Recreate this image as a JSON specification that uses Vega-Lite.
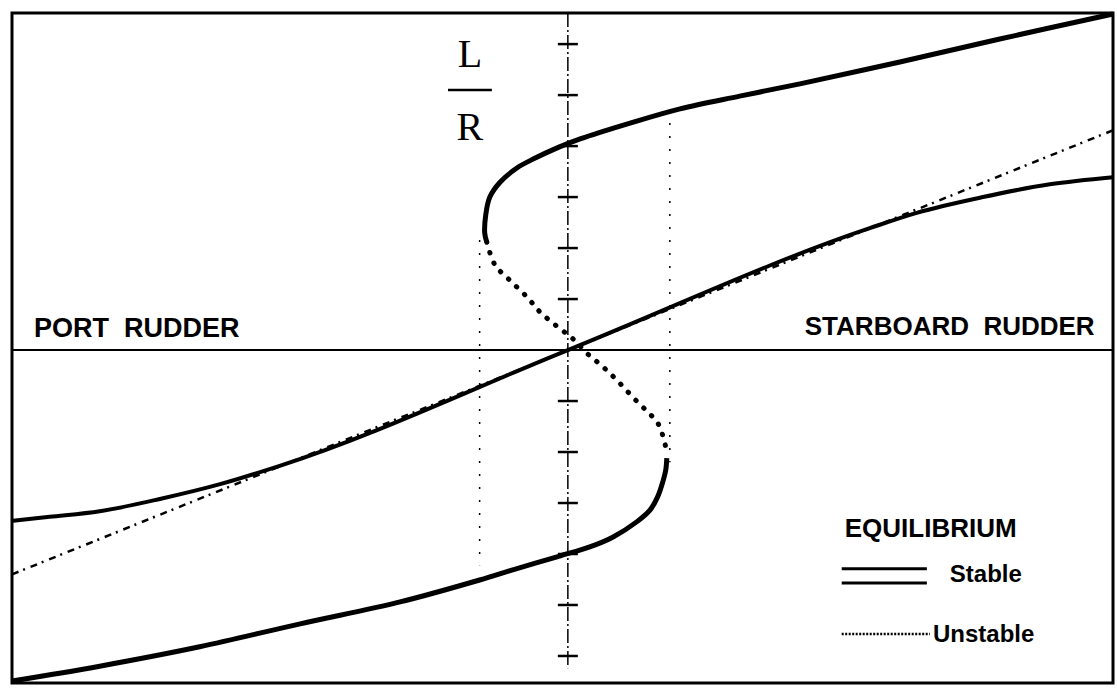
{
  "$schema": "https://vega.github.io/schema/vega-lite/v6.json",
  "width": 1101,
  "height": 670,
  "autosize": "none",
  "padding": {"left": 12, "top": 13, "right": 4, "bottom": 6},
  "background": "white",
  "config": {
    "view": {"stroke": "black", "strokeWidth": 3},
    "axis": {"disable": true}
  },
  "datasets": {
    "stable": [
      {"branch": "upper", "i": 1, "x": 10.69, "y": 6.59},
      {"branch": "upper", "i": 2, "x": 8.47, "y": 6.1},
      {"branch": "upper", "i": 3, "x": 6.51, "y": 5.65},
      {"branch": "upper", "i": 4, "x": 4.55, "y": 5.22},
      {"branch": "upper", "i": 5, "x": 3.37, "y": 4.98},
      {"branch": "upper", "i": 6, "x": 2.2, "y": 4.73},
      {"branch": "upper", "i": 7, "x": 1.22, "y": 4.45},
      {"branch": "upper", "i": 8, "x": 0.24, "y": 4.14},
      {"branch": "upper", "i": 9, "x": -0.22, "y": 3.96},
      {"branch": "upper", "i": 10, "x": -0.65, "y": 3.76},
      {"branch": "upper", "i": 11, "x": -1.0, "y": 3.57},
      {"branch": "upper", "i": 12, "x": -1.33, "y": 3.29},
      {"branch": "upper", "i": 13, "x": -1.53, "y": 3.0},
      {"branch": "upper", "i": 14, "x": -1.61, "y": 2.65},
      {"branch": "upper", "i": 15, "x": -1.63, "y": 2.29},
      {"branch": "upper", "i": 16, "x": -1.59, "y": 2.12},
      {"branch": "lower", "i": 1, "x": 1.94, "y": -2.12},
      {"branch": "lower", "i": 2, "x": 1.92, "y": -2.35},
      {"branch": "lower", "i": 3, "x": 1.86, "y": -2.59},
      {"branch": "lower", "i": 4, "x": 1.76, "y": -2.88},
      {"branch": "lower", "i": 5, "x": 1.61, "y": -3.14},
      {"branch": "lower", "i": 6, "x": 1.35, "y": -3.37},
      {"branch": "lower", "i": 7, "x": 0.88, "y": -3.67},
      {"branch": "lower", "i": 8, "x": 0.43, "y": -3.86},
      {"branch": "lower", "i": 9, "x": -0.16, "y": -4.04},
      {"branch": "lower", "i": 10, "x": -1.08, "y": -4.31},
      {"branch": "lower", "i": 11, "x": -1.73, "y": -4.51},
      {"branch": "lower", "i": 12, "x": -3.29, "y": -4.94},
      {"branch": "lower", "i": 13, "x": -5.25, "y": -5.37},
      {"branch": "lower", "i": 14, "x": -7.22, "y": -5.82},
      {"branch": "lower", "i": 15, "x": -9.18, "y": -6.2},
      {"branch": "lower", "i": 16, "x": -10.9, "y": -6.49}
    ],
    "unstable": [
      {"i": 1, "x": -1.59, "y": 2.12},
      {"i": 2, "x": -1.43, "y": 1.67},
      {"i": 3, "x": -1.14, "y": 1.37},
      {"i": 4, "x": -0.8, "y": 1.04},
      {"i": 5, "x": -0.55, "y": 0.75},
      {"i": 6, "x": -0.22, "y": 0.47},
      {"i": 7, "x": 0.1, "y": 0.22},
      {"i": 8, "x": 0.37, "y": -0.06},
      {"i": 9, "x": 0.69, "y": -0.33},
      {"i": 10, "x": 0.98, "y": -0.61},
      {"i": 11, "x": 1.27, "y": -0.92},
      {"i": 12, "x": 1.55, "y": -1.2},
      {"i": 13, "x": 1.75, "y": -1.41},
      {"i": 14, "x": 1.86, "y": -1.67},
      {"i": 15, "x": 1.94, "y": -2.0}
    ],
    "straight": [
      {"x": -10.9, "y": -3.35},
      {"x": -10.16, "y": -3.27},
      {"x": -9.18, "y": -3.16},
      {"x": -8.0, "y": -2.92},
      {"x": -6.82, "y": -2.63},
      {"x": -5.65, "y": -2.27},
      {"x": 0, "y": 0},
      {"x": 5.92, "y": 2.39},
      {"x": 6.84, "y": 2.69},
      {"x": 8.14, "y": 3.0},
      {"x": 9.45, "y": 3.25},
      {"x": 10.69, "y": 3.39}
    ],
    "asymptote": [
      {"x": -10.9, "y": -4.4},
      {"x": 10.69, "y": 4.31}
    ],
    "refs": [
      {"x": -1.73, "y": 2.16, "y2": -4.22},
      {"x": 2.0, "y": 4.71, "y2": -2.2}
    ],
    "ticks": [
      {"x": 0, "y": 6}, {"x": 0, "y": 5}, {"x": 0, "y": 4}, {"x": 0, "y": 3},
      {"x": 0, "y": 2}, {"x": 0, "y": 1}, {"x": 0, "y": -1}, {"x": 0, "y": -2},
      {"x": 0, "y": -3}, {"x": 0, "y": -4}, {"x": 0, "y": -5}, {"x": 0, "y": -6}
    ]
  },
  "encoding": {
    "x": {"type": "quantitative", "scale": {"domain": [-10.9, 10.69], "nice": false, "zero": false}, "axis": null},
    "y": {"type": "quantitative", "scale": {"domain": [-6.53, 6.61], "nice": false, "zero": false}, "axis": null}
  },
  "layer": [
    {
      "data": {"values": [{"y": 0}]},
      "mark": {"type": "rule", "stroke": "black", "strokeWidth": 2},
      "encoding": {"y": {"field": "y", "type": "quantitative"}, "x": null}
    },
    {
      "data": {"values": [{"x": 0, "y": 6.61, "y2": -6.24}]},
      "mark": {"type": "rule", "stroke": "black", "strokeWidth": 1.5, "strokeDash": [14, 3, 2, 3]},
      "encoding": {
        "x": {"field": "x", "type": "quantitative"},
        "y": {"field": "y", "type": "quantitative"},
        "y2": {"field": "y2"}
      }
    },
    {
      "data": {"name": "ticks"},
      "mark": {"type": "tick", "orient": "horizontal", "size": 20, "thickness": 2.5, "color": "black", "opacity": 1},
      "encoding": {
        "x": {"field": "x", "type": "quantitative"},
        "y": {"field": "y", "type": "quantitative"}
      }
    },
    {
      "data": {"name": "refs"},
      "mark": {"type": "rule", "stroke": "black", "strokeWidth": 1.5, "strokeDash": [2, 11]},
      "encoding": {
        "x": {"field": "x", "type": "quantitative"},
        "y": {"field": "y", "type": "quantitative"},
        "y2": {"field": "y2"}
      }
    },
    {
      "data": {"name": "asymptote"},
      "mark": {"type": "line", "stroke": "black", "strokeWidth": 2.5, "strokeDash": [7, 5, 2, 6]},
      "encoding": {
        "x": {"field": "x", "type": "quantitative"},
        "y": {"field": "y", "type": "quantitative"}
      }
    },
    {
      "data": {"name": "straight"},
      "mark": {"type": "line", "stroke": "black", "strokeWidth": 4, "interpolate": "monotone"},
      "encoding": {
        "x": {"field": "x", "type": "quantitative"},
        "y": {"field": "y", "type": "quantitative"}
      }
    },
    {
      "data": {"name": "stable"},
      "mark": {"type": "line", "stroke": "black", "strokeWidth": 5, "interpolate": "catmull-rom"},
      "encoding": {
        "x": {"field": "x", "type": "quantitative"},
        "y": {"field": "y", "type": "quantitative"},
        "detail": {"field": "branch"},
        "order": {"field": "i", "type": "quantitative"}
      }
    },
    {
      "data": {"name": "unstable"},
      "mark": {"type": "line", "stroke": "black", "strokeWidth": 5, "strokeDash": [0.5, 10.5], "strokeCap": "round", "interpolate": "catmull-rom"},
      "encoding": {
        "x": {"field": "x", "type": "quantitative"},
        "y": {"field": "y", "type": "quantitative"},
        "order": {"field": "i", "type": "quantitative"}
      }
    },
    {
      "data": {"values": [
        {"x": -10.47, "y": 0.25, "t": "PORT\u00a0\u00a0RUDDER"}
      ]},
      "mark": {"type": "text", "align": "left", "baseline": "alphabetic", "font": "Liberation Sans", "fontWeight": "bold", "fontSize": 27, "color": "black"},
      "encoding": {
        "x": {"field": "x", "type": "quantitative"},
        "y": {"field": "y", "type": "quantitative"},
        "text": {"field": "t"}
      }
    },
    {
      "data": {"values": [
        {"x": 10.33, "y": 0.29, "t": "STARBOARD\u00a0\u00a0RUDDER"}
      ]},
      "mark": {"type": "text", "align": "right", "baseline": "alphabetic", "font": "Liberation Sans", "fontWeight": "bold", "fontSize": 26, "color": "black"},
      "encoding": {
        "x": {"field": "x", "type": "quantitative"},
        "y": {"field": "y", "type": "quantitative"},
        "text": {"field": "t"}
      }
    },
    {
      "data": {"values": [
        {"x": 5.43, "y": -3.67, "t": "EQUILIBRIUM"}
      ]},
      "mark": {"type": "text", "align": "left", "baseline": "alphabetic", "font": "Liberation Sans", "fontWeight": "bold", "fontSize": 26, "color": "black"},
      "encoding": {
        "x": {"field": "x", "type": "quantitative"},
        "y": {"field": "y", "type": "quantitative"},
        "text": {"field": "t"}
      }
    },
    {
      "data": {"values": [
        {"x": 7.49, "y": -4.41, "t": "Stable"},
        {"x": 7.16, "y": -5.59, "t": "Unstable"}
      ]},
      "mark": {"type": "text", "align": "left", "baseline": "middle", "font": "Liberation Sans", "fontWeight": "bold", "fontSize": 24, "color": "black"},
      "encoding": {
        "x": {"field": "x", "type": "quantitative"},
        "y": {"field": "y", "type": "quantitative"},
        "text": {"field": "t"}
      }
    },
    {
      "data": {"values": [
        {"x": 5.37, "x2": 7.04, "y": -4.29},
        {"x": 5.37, "x2": 7.04, "y": -4.57}
      ]},
      "mark": {"type": "rule", "stroke": "black", "strokeWidth": 3},
      "encoding": {
        "x": {"field": "x", "type": "quantitative"},
        "x2": {"field": "x2"},
        "y": {"field": "y", "type": "quantitative"}
      }
    },
    {
      "data": {"values": [
        {"x": 5.37, "x2": 7.1, "y": -5.57}
      ]},
      "mark": {"type": "rule", "stroke": "black", "strokeWidth": 2.5, "strokeDash": [2, 1.5]},
      "encoding": {
        "x": {"field": "x", "type": "quantitative"},
        "x2": {"field": "x2"},
        "y": {"field": "y", "type": "quantitative"}
      }
    },
    {
      "data": {"values": [
        {"x": -1.92, "y": 5.55, "t": "L"},
        {"x": -1.92, "y": 4.12, "t": "R"}
      ]},
      "mark": {"type": "text", "align": "center", "baseline": "alphabetic", "font": "Liberation Serif", "fontSize": 40, "color": "black"},
      "encoding": {
        "x": {"field": "x", "type": "quantitative"},
        "y": {"field": "y", "type": "quantitative"},
        "text": {"field": "t"}
      }
    },
    {
      "data": {"values": [
        {"x": -2.35, "x2": -1.49, "y": 5.1}
      ]},
      "mark": {"type": "rule", "stroke": "black", "strokeWidth": 2.5},
      "encoding": {
        "x": {"field": "x", "type": "quantitative"},
        "x2": {"field": "x2"},
        "y": {"field": "y", "type": "quantitative"}
      }
    }
  ]
}
